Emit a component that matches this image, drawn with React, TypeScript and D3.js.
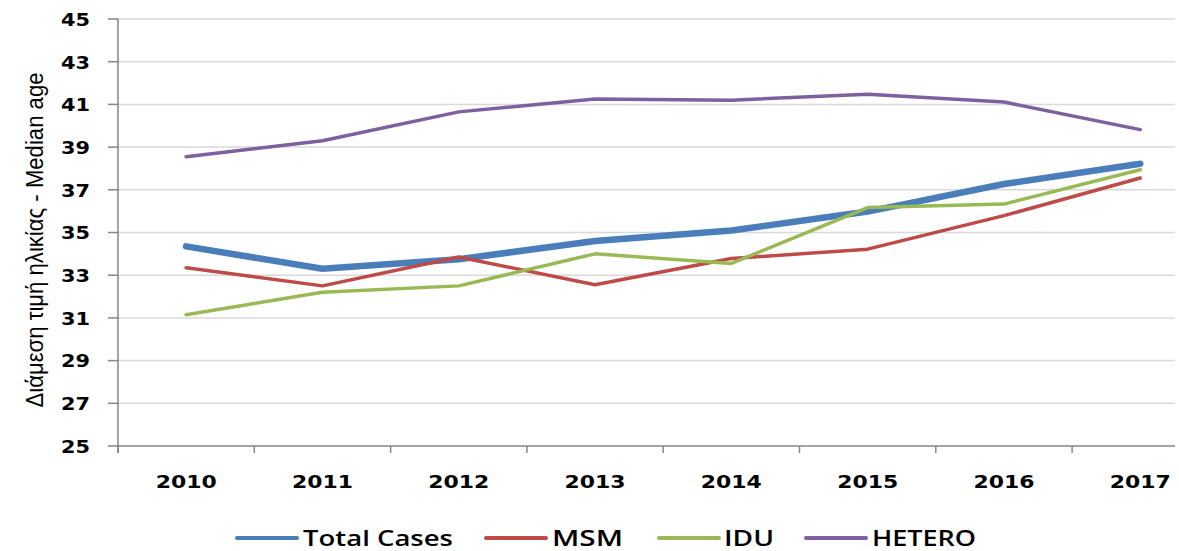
import React from "react";
import * as d3 from "d3";

const years = ["2010", "2011", "2012", "2013", "2014", "2015", "2016", "2017"];
const totalCases = [34.35, 33.3, 33.75, 34.6, 35.09, 35.98, 37.27, 38.22];
const msm = [33.35, 32.5, 33.85, 32.55, 33.78, 34.22, 35.79, 37.55];
const idu = [31.15, 32.2, 32.5, 34.0, 33.55, 36.17, 36.33, 37.94];
const hetero = [38.55, 39.3, 40.65, 41.25, 41.2, 41.47, 41.11, 39.82];
const yTicks = [25, 27, 29, 31, 33, 35, 37, 39, 41, 43, 45];

const series = [
  { name: "Total Cases", values: totalCases, color: "#4A7EBB", width: 6.5 },
  { name: "MSM", values: msm, color: "#BE4B48", width: 3.5 },
  { name: "IDU", values: idu, color: "#98B954", width: 3.5 },
  { name: "HETERO", values: hetero, color: "#7D60A0", width: 3.5 },
];

// legend layout (line start, text start, text length)
const legendPos = [
  { x: 237, tx: 303, tl: 150 },
  { x: 486, tx: 552, tl: 71 },
  { x: 659, tx: 724, tl: 50 },
  { x: 806, tx: 872, tl: 104 },
];

const W = 1179;
const H = 551;

export default function App() {
  const left = 118;
  const step = 136.3;
  const gridRight = 1175;

  const x = d3
    .scaleBand<string>()
    .domain(years)
    .range([left, left + step * years.length]);
  const y = d3.scaleLinear().domain([25, 45]).range([446, 19]);

  const line = d3
    .line<number>()
    .x((_, i) => (x(years[i]) as number) + x.bandwidth() / 2)
    .y((d) => y(d));

  const tickFont = "'DejaVu Sans', Verdana, sans-serif";

  return (
    <svg
      width={W}
      height={H}
      style={{ position: "absolute", left: 0, top: 0, background: "#fff" }}
    >
      <rect width={W} height={H} fill="#fff" />
      {/* gridlines */}
      {yTicks.map((t) => (
        <line
          key={"g" + t}
          x1={left}
          x2={gridRight}
          y1={y(t)}
          y2={y(t)}
          stroke={t === 25 ? "#868686" : "#D9D9D9"}
          strokeWidth={1.5}
        />
      ))}
      {/* y axis */}
      <line x1={left} x2={left} y1={y(45)} y2={y(25) + 7} stroke="#868686" strokeWidth={1.5} />
      {yTicks.map((t) => (
        <g key={"yt" + t}>
          <line x1={left - 10} x2={left} y1={y(t)} y2={y(t)} stroke="#868686" strokeWidth={1.5} />
          <text
            x={90}
            y={y(t)}
            dy="0.37em"
            textAnchor="end"
            fontFamily={tickFont}
            fontWeight="bold"
            fontSize={18.5}
            textLength={29}
            lengthAdjust="spacingAndGlyphs"
            fill="#000"
          >
            {t}
          </text>
        </g>
      ))}
      {/* x ticks */}
      {years.map((yr) => (
        <line
          key={"xt" + yr}
          x1={x(yr) as number}
          x2={x(yr) as number}
          y1={y(25)}
          y2={y(25) + 7}
          stroke="#868686"
          strokeWidth={1.5}
        />
      ))}
      {years.map((yr) => (
        <text
          key={"xl" + yr}
          x={(x(yr) as number) + x.bandwidth() / 2}
          y={488}
          textAnchor="middle"
          fontFamily={tickFont}
          fontWeight="bold"
          fontSize={18.5}
          textLength={61}
          lengthAdjust="spacingAndGlyphs"
          fill="#000"
        >
          {yr}
        </text>
      ))}
      {/* axis title */}
      <text
        transform="translate(43,240) rotate(-90)"
        textAnchor="middle"
        fontFamily="'Liberation Sans Narrow', 'Liberation Sans', Arial, sans-serif"
        fontSize={23}
        textLength={335}
        lengthAdjust="spacingAndGlyphs"
        fill="#000"
      >
        Διάμεση τιμή ηλικίας - Median age
      </text>
      {/* series */}
      {series.map((s) => (
        <path
          key={s.name}
          d={line(s.values) || ""}
          fill="none"
          stroke={s.color}
          strokeWidth={s.width}
          strokeLinecap="round"
          strokeLinejoin="round"
        />
      ))}
      {/* legend */}
      {series.map((s, i) => (
        <g key={"lg" + s.name}>
          <line
            x1={legendPos[i].x}
            x2={legendPos[i].x + 60}
            y1={538}
            y2={538}
            stroke={s.color}
            strokeWidth={4}
            strokeLinecap="round"
          />
          <text
            x={legendPos[i].tx}
            y={546}
            fontFamily="'Open Sans', 'Liberation Sans', sans-serif"
            fontWeight={600}
            fontSize={22}
            textLength={legendPos[i].tl}
            lengthAdjust="spacingAndGlyphs"
            fill="#000"
          >
            {s.name}
          </text>
        </g>
      ))}
    </svg>
  );
}
